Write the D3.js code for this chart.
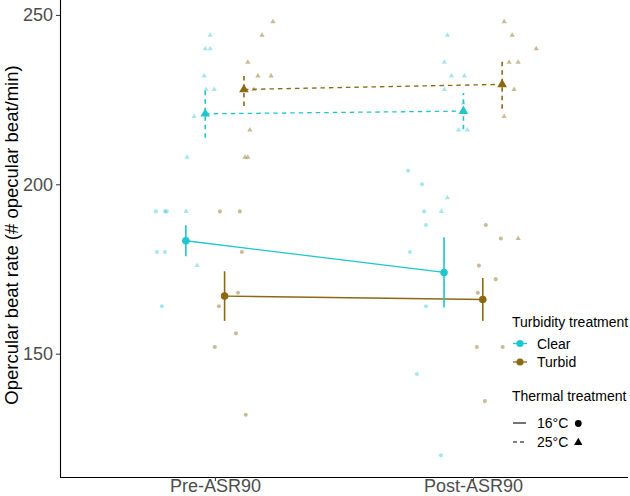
<!DOCTYPE html>
<html>
<head>
<meta charset="utf-8">
<script src="https://cdn.jsdelivr.net/npm/d3@7"></script>
<style>
  body { margin: 0; background: #fff; }
  svg text { font-family: 'Liberation Sans', Arial, Helvetica, sans-serif; }
</style>
</head>
<body>
<div id="chart"></div>
<script>
// categories and groups
const categories = ['Pre-ASR90', 'Post-ASR90']
const turbidity = ['Clear', 'Turbid']
const thermal = ['16°C', '25°C']
const yTicks = [150, 200, 250]

// raw beat rates (beats/min) and their jitter (x units)
const preClear16 = [192, 192, 192, 180, 180, 164]
const preClear16Jit = [-0.116, -0.081, -0.074, -0.112, -0.081, -0.093]
const preClear25 = [244, 240, 240, 232, 228, 228, 220, 208, 192, 176]
const preClear25Jit = [0.019, 0, 0.019, -0.004, 0.004, 0.035, -0.043, -0.07, -0.074, -0.031]
const preTurbid16 = [192, 192, 180, 168, 164, 156, 152, 132]
const preTurbid16Jit = [-0.018, 0.059, 0.067, 0.052, -0.022, 0.044, -0.038, 0.082]
const preTurbid25 = [248, 244, 236, 232, 232, 228, 216, 208, 208]
const preTurbid25Jit = [0.112, 0.07, 0.015, 0.054, 0.105, 0.039, 0.023, 0.004, 0.015]
const postClear16 = [204, 200, 192, 188, 180, 164, 144, 120]
const postClear16Jit = [-0.139, -0.085, -0.077, -0.07, -0.132, -0.07, -0.105, -0.012]
const postClear25 = [244, 236, 232, 232, 228, 224, 216, 216, 196, 192]
const postClear25Jit = [-0.062, -0.074, -0.046, 0.004, -0.074, 0, -0.019, 0.015, -0.062, -0.085]
const postTurbid16 = [188, 184, 176, 172, 168, 152, 152, 136]
const postTurbid16Jit = [0.012, 0.07, -0.015, 0.05, -0.019, -0.023, 0.077, 0.008]
const postTurbid25 = [248, 244, 240, 236, 236, 228, 220, 184]
const postTurbid25Jit = [0.008, 0.039, 0.132, 0.027, 0.062, 0.046, 0.008, 0.062]

const colors = { Clear: '#1fc6cd', Turbid: '#8b6914' }

const width = 630
const height = 496
const margin = { top: 0, left: 60, right: 2, bottom: 19 }

const groups = [
  { cat: 'Pre-ASR90', turb: 'Clear', temp: '16°C', values: preClear16, jit: preClear16Jit },
  { cat: 'Pre-ASR90', turb: 'Clear', temp: '25°C', values: preClear25, jit: preClear25Jit },
  { cat: 'Pre-ASR90', turb: 'Turbid', temp: '16°C', values: preTurbid16, jit: preTurbid16Jit },
  { cat: 'Pre-ASR90', turb: 'Turbid', temp: '25°C', values: preTurbid25, jit: preTurbid25Jit },
  { cat: 'Post-ASR90', turb: 'Clear', temp: '16°C', values: postClear16, jit: postClear16Jit },
  { cat: 'Post-ASR90', turb: 'Clear', temp: '25°C', values: postClear25, jit: postClear25Jit },
  { cat: 'Post-ASR90', turb: 'Turbid', temp: '16°C', values: postTurbid16, jit: postTurbid16Jit },
  { cat: 'Post-ASR90', turb: 'Turbid', temp: '25°C', values: postTurbid25, jit: postTurbid25Jit }
]

// summary: mean +/- standard error
groups.forEach(g => {
  g.mean = d3.mean(g.values)
  g.se = d3.deviation(g.values) / Math.sqrt(g.values.length)
  g.key = g.turb + '|' + g.temp
})

const svg = d3
  .select('#chart')
  .append('svg')
  .attr('width', width)
  .attr('height', height)

/// Scales////////////////////////////////
const xScale = d3.scaleLinear().domain([0.4, 2.6]).range([margin.left, width - margin.right])
const catPos = d3.scaleOrdinal().domain(categories).range([1, 2])
const dodge = d3
  .scaleBand()
  .domain(['Clear|16°C', 'Clear|25°C', 'Turbid|16°C', 'Turbid|25°C'])
  .range([-0.15, 0.15])
const dodgeX = g => catPos(g.cat) + dodge(g.key) + dodge.bandwidth() / 2
const yScale = d3.scaleLinear().domain([113.6, 254.4]).range([height - margin.bottom, margin.top])

const symbolFor = (temp, size) =>
  d3.symbol().type(temp === '16°C' ? d3.symbolCircle : d3.symbolTriangle).size(size)()

/// raw points////////////////////////////////
const raw = []
groups.forEach(g => {
  g.values.forEach((v, i) => raw.push({ g, v, x: dodgeX(g) + g.jit[i] }))
})

svg
  .append('g')
  .selectAll('path')
  .data(raw)
  .enter()
  .append('path')
  .attr('d', d => symbolFor(d.g.temp, d.g.temp === '16°C' ? 13 : 12))
  .attr('transform', d => `translate(${xScale(d.x)},${yScale(d.v)})`)
  .attr('fill', d => colors[d.g.turb])
  .attr('opacity', d => (d.g.turb === 'Clear' ? 0.4 : 0.45))

/// mean lines////////////////////////////////
const pairs = d3.groups(groups, g => g.key)
svg
  .append('g')
  .selectAll('path')
  .data(pairs)
  .enter()
  .append('path')
  .attr('d', d => d3.line().x(g => xScale(dodgeX(g))).y(g => yScale(g.mean))(d[1]))
  .attr('fill', 'none')
  .attr('stroke', d => colors[d[1][0].turb])
  .attr('stroke-width', 1.3)
  .attr('stroke-dasharray', d => (d[1][0].temp === '25°C' ? '4.5,4' : null))

/// error bars////////////////////////////////
svg
  .append('g')
  .selectAll('line')
  .data(groups)
  .enter()
  .append('line')
  .attr('x1', g => xScale(dodgeX(g)))
  .attr('x2', g => xScale(dodgeX(g)))
  .attr('y1', g => yScale(g.mean - g.se))
  .attr('y2', g => yScale(g.mean + g.se))
  .attr('stroke', g => colors[g.turb])
  .attr('stroke-width', 1.6)
  .attr('stroke-dasharray', g => (g.temp === '25°C' ? '4.5,4' : null))

/// mean points////////////////////////////////
svg
  .append('g')
  .selectAll('path')
  .data(groups)
  .enter()
  .append('path')
  .attr('d', g => symbolFor(g.temp, g.temp === '16°C' ? 44 : 40))
  .attr('transform', g => `translate(${xScale(dodgeX(g))},${yScale(g.mean)})`)
  .attr('fill', g => colors[g.turb])

/// axes////////////////////////////////
const yAxis = svg
  .append('g')
  .attr('transform', `translate(${margin.left},0)`)
  .call(d3.axisLeft(yScale).tickValues(yTicks).tickSize(4).tickPadding(3))
yAxis.select('.domain').attr('stroke', '#000').attr('stroke-width', 1.1)
  .attr('d', `M0.5,${margin.top}V${height - margin.bottom}`)

const xAxis = svg
  .append('g')
  .attr('transform', `translate(0,${height - margin.bottom})`)
  .call(
    d3
      .axisBottom(xScale)
      .tickValues(categories.map(c => catPos(c)))
      .tickFormat((d, i) => categories[i])
      .tickSize(4)
  )
xAxis.select('.domain').attr('stroke', '#000').attr('stroke-width', 1.1)
  .attr('d', `M${margin.left},0.5H${width - margin.right}`)
xAxis.selectAll('.tick text').attr('y', 2)

svg.selectAll('.tick line').attr('stroke', '#333')
svg
  .selectAll('.tick text')
  .attr('fill', '#4d4d4d')
  .attr('font-size', 18)
  .style('font-family', "'Liberation Sans', Arial, sans-serif")

svg
  .append('text')
  .attr('transform', `translate(18,235) rotate(-90)`)
  .attr('text-anchor', 'middle')
  .attr('font-size', 18.5)
  .attr('fill', '#000')
  .text('Opercular beat rate (# opecular beat/min)')

/// legend////////////////////////////////
const legend = svg.append('g').attr('font-size', 14)

legend.append('text').attr('x', 512).attr('y', 327).text('Turbidity treatment')

turbidity.forEach((t, i) => {
  const y = 343.5 + i * 18.5
  legend
    .append('line')
    .attr('x1', 513).attr('x2', 527).attr('y1', y).attr('y2', y)
    .attr('stroke', colors[t]).attr('stroke-width', 1.3)
  legend
    .append('circle')
    .attr('cx', 520).attr('cy', y).attr('r', 3.6)
    .attr('fill', colors[t])
  legend.append('text').attr('x', 537).attr('y', y + 5).text(t)
})

legend.append('text').attr('x', 512).attr('y', 401).text('Thermal treatment')

thermal.forEach((t, i) => {
  const y = 423 + i * 19
  legend
    .append('line')
    .attr('x1', 513).attr('x2', 526).attr('y1', y).attr('y2', y)
    .attr('stroke', '#000').attr('stroke-width', 1.1)
    .attr('stroke-dasharray', i === 1 ? '4,3' : null)
  const label = legend.append('text').attr('x', 537).attr('y', y + 5).text(t)
  const end = 537 + label.node().getComputedTextLength()
  legend
    .append('path')
    .attr('d', symbolFor(t, i === 0 ? 36 : 30))
    .attr('transform', `translate(${end + 10},${y + 0.5})`)
    .attr('fill', '#000')
})
</script>
</body>
</html>
